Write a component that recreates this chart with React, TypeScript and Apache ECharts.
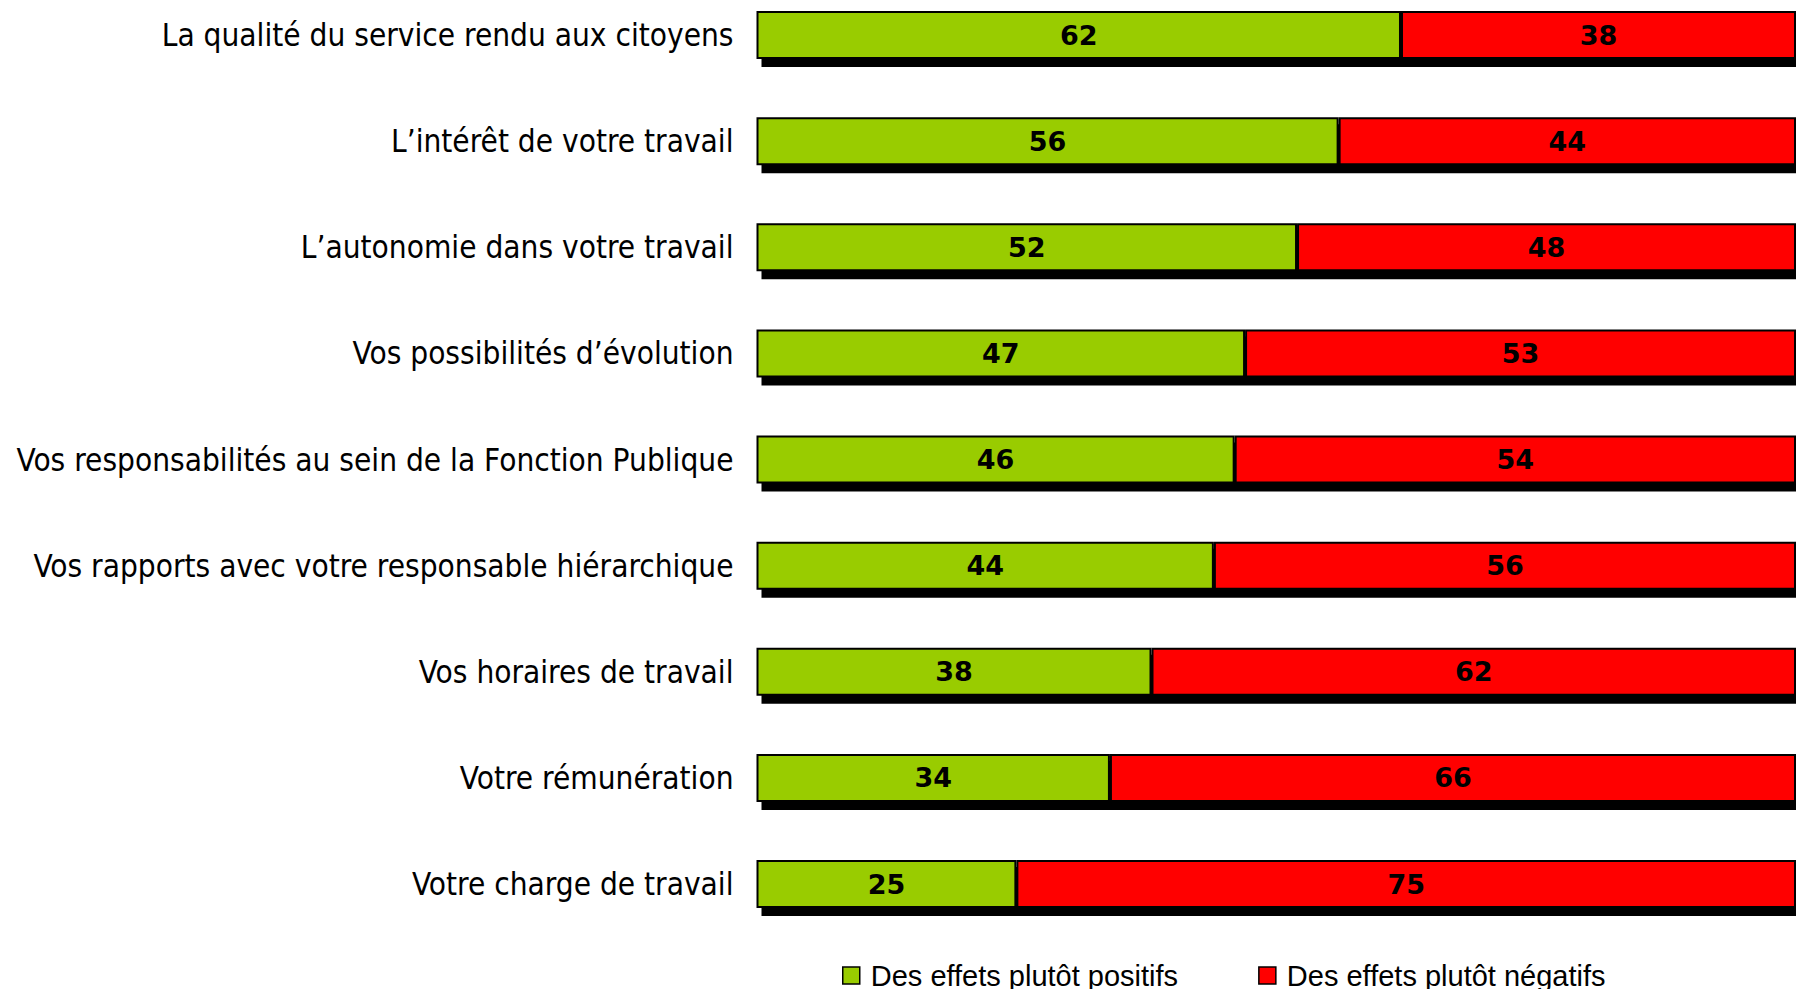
import React, { useEffect, useRef } from "react";
import * as echarts from "echarts";

const categories = [
  "La qualité du service rendu aux citoyens",
  "L’intérêt de votre travail",
  "L’autonomie dans votre travail",
  "Vos possibilités d’évolution",
  "Vos responsabilités au sein de la Fonction Publique",
  "Vos rapports avec votre responsable hiérarchique",
  "Vos horaires de travail",
  "Votre rémunération",
  "Votre charge de travail",
];
const positifs = [62, 56, 52, 47, 46, 44, 38, 34, 25];
const negatifs = [38, 44, 48, 53, 54, 56, 62, 66, 75];
const seriesNames = ["Des effets plutôt positifs", "Des effets plutôt négatifs"];

export default function App() {
  const ref = useRef<HTMLDivElement>(null);
  useEffect(() => {
    document.body.style.margin = "0";
    const chart = echarts.init(ref.current!, null, { renderer: "svg" });
    const BAR_H = 48;
    const shadowData = categories.map((_, i) => [positifs[i] + negatifs[i], i]);
    const labelStyle = {
      show: true,
      position: "inside",
      color: "#000",
      fontSize: 27,
      fontWeight: "bold",
      fontFamily: "'DejaVu Sans', sans-serif",
    };
    chart.setOption({
      animation: false,
      backgroundColor: "#ffffff",
      grid: { left: 756.5, top: 35, width: 1043, height: 849, containLabel: false },
      xAxis: { type: "value", min: 0, max: 100, show: false },
      yAxis: {
        type: "category",
        inverse: true,
        boundaryGap: false,
        data: categories,
        axisLine: { show: false },
        axisTick: { show: false },
        splitLine: { show: false },
        axisLabel: {
          margin: 23,
          color: "#000",
          fontSize: 31.3,
          fontFamily: "'DejaVu Sans Condensed', 'DejaVu Sans', sans-serif",
        },
      },
      legend: {
        left: 842,
        top: 961,
        padding: 0,
        itemWidth: 17,
        itemHeight: 17,
        itemGap: 80,
        icon: "rect",
        data: seriesNames,
        textStyle: {
          fontSize: 29,
          lineHeight: 17,
          color: "#000",
          fontFamily: "'Liberation Sans', Arial, sans-serif",
          padding: [0, 0, 0, 6],
        },
        itemStyle: { borderColor: "#000", borderWidth: 1.5 },
      },
      series: [
        {
          type: "custom",
          name: "shadow",
          z: 1,
          silent: true,
          clip: false,
          data: shadowData,
          encode: { x: 0, y: 1 },
          renderItem: (params: any, api: any) => {
            const start = api.coord([0, api.value(1)]);
            const end = api.coord([api.value(0), api.value(1)]);
            return {
              type: "rect",
              shape: {
                x: start[0] + 5,
                y: start[1] - BAR_H / 2 + 7,
                width: end[0] - start[0],
                height: BAR_H + 1,
              },
              style: { fill: "#000" },
            };
          },
        },
        {
          type: "bar",
          name: seriesNames[0],
          stack: "t",
          z: 3,
          clip: false,
          barWidth: BAR_H,
          data: positifs,
          itemStyle: { color: "#99CC00", borderColor: "#000", borderWidth: 2 },
          label: labelStyle,
        },
        {
          type: "bar",
          name: seriesNames[1],
          stack: "t",
          z: 3,
          clip: false,
          barWidth: BAR_H,
          data: negatifs,
          itemStyle: { color: "#FF0000", borderColor: "#000", borderWidth: 2 },
          label: labelStyle,
        },
      ],
    });
    return () => chart.dispose();
  }, []);
  return <div ref={ref} style={{ width: 1796, height: 989 }} />;
}
